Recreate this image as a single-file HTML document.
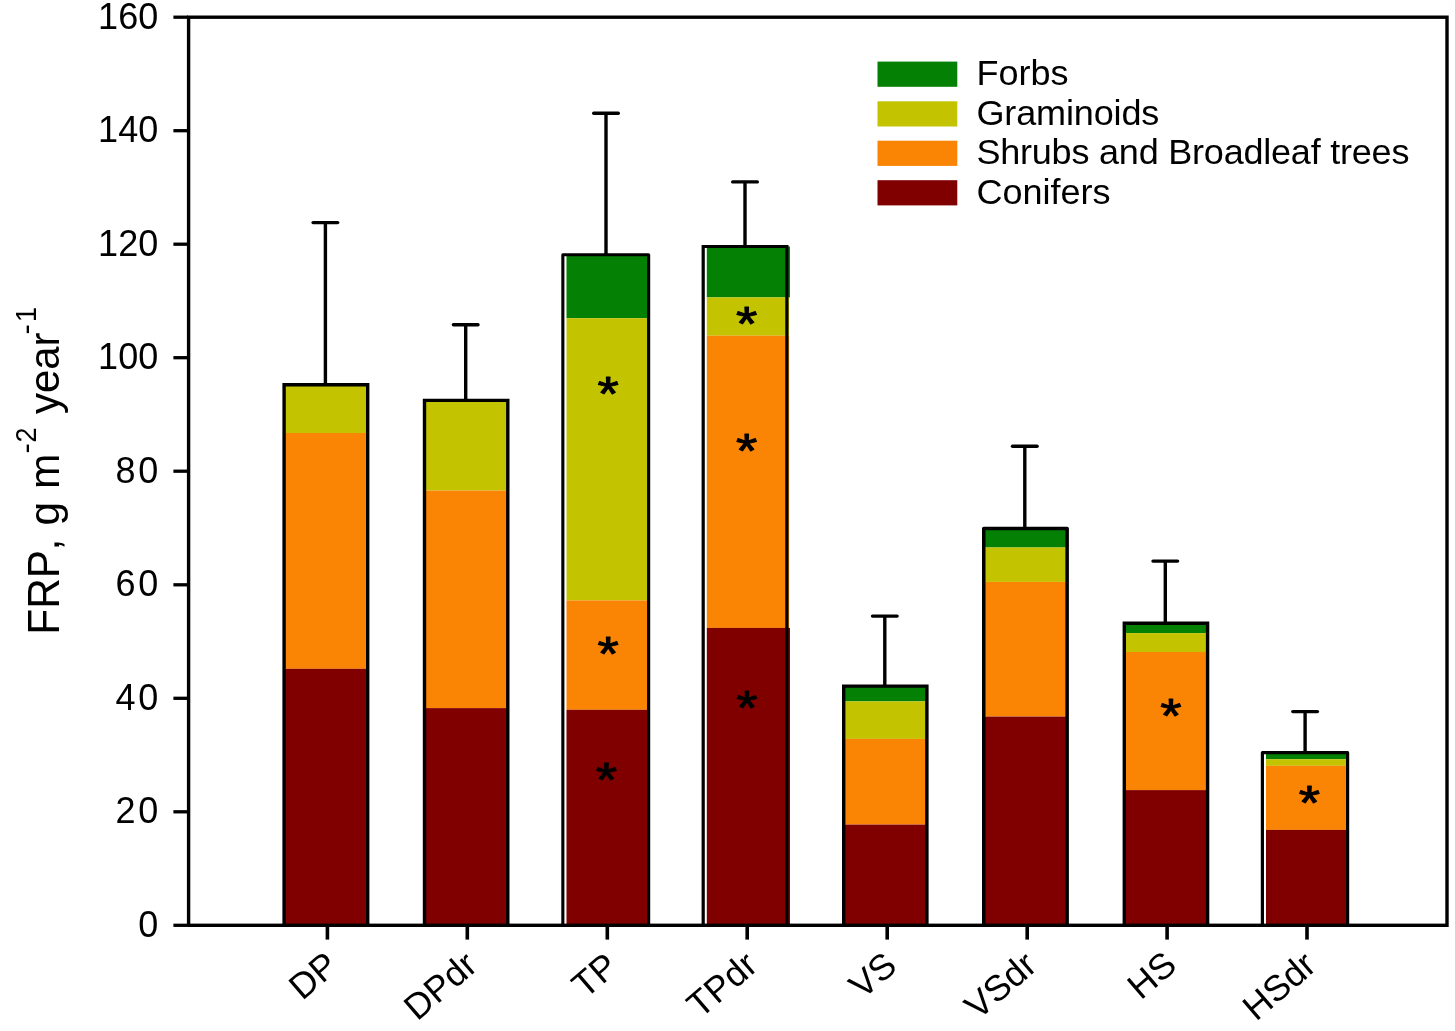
<!DOCTYPE html>
<html lang="en"><head><meta charset="utf-8"><title>FRP stacked bar chart</title>
<style>html,body{margin:0;padding:0;background:#fff}svg{display:block}text{font-family:"Liberation Sans",Arial,sans-serif;fill:#000}</style>
</head><body>
<svg width="1455" height="1031" viewBox="0 0 1455 1031">
<rect x="0" y="0" width="1455" height="1031" fill="#fff"/>
<g shape-rendering="auto">
<rect x="284.0" y="385.0" width="84.0" height="48.0" fill="#C4C300"/>
<rect x="284.0" y="433.0" width="84.0" height="235.8" fill="#FA8403"/>
<rect x="284.0" y="668.8" width="84.0" height="256.5" fill="#800000"/>
<rect x="424.0" y="400.0" width="84.0" height="90.6" fill="#C4C300"/>
<rect x="424.0" y="490.6" width="84.0" height="217.5" fill="#FA8403"/>
<rect x="424.0" y="708.1" width="84.0" height="217.2" fill="#800000"/>
<rect x="566.5" y="255.0" width="82.5" height="63.2" fill="#048004"/>
<rect x="566.5" y="318.2" width="82.5" height="282.2" fill="#C4C300"/>
<rect x="566.5" y="600.4" width="82.5" height="109.4" fill="#FA8403"/>
<rect x="566.5" y="709.8" width="82.5" height="215.5" fill="#800000"/>
<rect x="706.8" y="246.5" width="83.2" height="50.9" fill="#048004"/>
<rect x="706.8" y="297.4" width="82.3" height="38.3" fill="#C4C300"/>
<rect x="706.8" y="335.7" width="82.3" height="292.2" fill="#FA8403"/>
<rect x="706.8" y="627.9" width="83.2" height="297.4" fill="#800000"/>
<rect x="844.0" y="686.0" width="83.0" height="15.4" fill="#048004"/>
<rect x="844.0" y="701.4" width="83.0" height="37.5" fill="#C4C300"/>
<rect x="844.0" y="738.9" width="83.0" height="85.7" fill="#FA8403"/>
<rect x="844.0" y="824.6" width="83.0" height="100.7" fill="#800000"/>
<rect x="984.0" y="528.0" width="83.0" height="19.5" fill="#048004"/>
<rect x="984.0" y="547.5" width="83.0" height="34.4" fill="#C4C300"/>
<rect x="984.0" y="581.9" width="83.0" height="134.7" fill="#FA8403"/>
<rect x="984.0" y="716.6" width="83.0" height="208.7" fill="#800000"/>
<rect x="1124.0" y="623.0" width="84.0" height="10.1" fill="#048004"/>
<rect x="1124.0" y="633.1" width="84.0" height="18.9" fill="#C4C300"/>
<rect x="1124.0" y="652.0" width="84.0" height="138.1" fill="#FA8403"/>
<rect x="1124.0" y="790.1" width="84.0" height="135.2" fill="#800000"/>
<rect x="1266.0" y="753.0" width="82.0" height="6.2" fill="#048004"/>
<rect x="1266.0" y="759.2" width="82.0" height="6.6" fill="#C4C300"/>
<rect x="1266.0" y="765.8" width="82.0" height="64.1" fill="#FA8403"/>
<rect x="1266.0" y="829.9" width="82.0" height="95.4" fill="#800000"/>
</g>
<g stroke="#000" stroke-width="3.4" fill="none" stroke-linecap="round">
<path d="M325.4 384.1V222.6" stroke-linecap="butt"/>
<path d="M313.1 222.6H337.7"/>
<path d="M465.7 399.7V324.8" stroke-linecap="butt"/>
<path d="M453.4 324.8H478.0"/>
<path d="M606.0 254.2V113.2" stroke-linecap="butt"/>
<path d="M593.7 113.2H618.3"/>
<path d="M745.0 245.9V181.9" stroke-linecap="butt"/>
<path d="M732.7 181.9H757.3"/>
<path d="M884.8 685.4V616.1" stroke-linecap="butt"/>
<path d="M872.5 616.1H897.1"/>
<path d="M1024.8 527.8V446.3" stroke-linecap="butt"/>
<path d="M1012.5 446.3H1037.1"/>
<path d="M1165.3 622.6V561.1" stroke-linecap="butt"/>
<path d="M1153.0 561.1H1177.6"/>
<path d="M1305.1 752.1V711.6" stroke-linecap="butt"/>
<path d="M1292.8 711.6H1317.4"/>
</g>
<path d="M284.10 925.3V384.80H367.70V925.3" fill="none" stroke="#000" stroke-width="3.4" stroke-linejoin="miter"/>
<path d="M424.50 925.3V400.40H507.80V925.3" fill="none" stroke="#000" stroke-width="3.4" stroke-linejoin="miter"/>
<path d="M562.85 925.3V254.75H648.65V925.3" fill="none" stroke="#000" stroke-width="3.1" stroke-linejoin="round"/>
<path d="M703.20 925.3V246.50H786.90V925.3" fill="none" stroke="#000" stroke-width="3.2" stroke-linejoin="miter"/>
<path d="M843.70 925.3V686.10H926.90V925.3" fill="none" stroke="#000" stroke-width="3.4" stroke-linejoin="miter"/>
<path d="M983.75 925.3V528.55H1067.15V925.3" fill="none" stroke="#000" stroke-width="3.5" stroke-linejoin="round"/>
<path d="M1124.30 925.3V623.30H1207.60V925.3" fill="none" stroke="#000" stroke-width="3.4" stroke-linejoin="miter"/>
<path d="M1262.40 925.3V752.70H1347.60V925.3" fill="none" stroke="#000" stroke-width="3.2" stroke-linejoin="round"/>
<rect x="188.6" y="17.2" width="1258.4" height="908.1" fill="none" stroke="#000" stroke-width="3.4"/>
<g stroke="#000" stroke-width="3.3">
<path d="M173.4 925.3H188"/>
<path d="M173.4 811.8H188"/>
<path d="M173.4 698.3H188"/>
<path d="M173.4 584.8H188"/>
<path d="M173.4 471.2H188"/>
<path d="M173.4 357.7H188"/>
<path d="M173.4 244.2H188"/>
<path d="M173.4 130.7H188"/>
<path d="M173.4 17.2H188"/>
</g>
<g stroke="#000" stroke-width="3.6">
<path d="M327.4 926V939.6"/>
<path d="M467.3 926V939.6"/>
<path d="M607.3 926V939.6"/>
<path d="M747.2 926V939.6"/>
<path d="M887.2 926V939.6"/>
<path d="M1027.2 926V939.6"/>
<path d="M1167.1 926V939.6"/>
<path d="M1307.0 926V939.6"/>
</g>
<g font-size="36" text-anchor="end">
<text x="158.2" y="936.9">0</text>
<text x="158.2" y="823.4">2<tspan dx="2.6">0</tspan></text>
<text x="158.2" y="709.9">4<tspan dx="2.6">0</tspan></text>
<text x="158.2" y="596.4">6<tspan dx="2.6">0</tspan></text>
<text x="158.2" y="482.8">8<tspan dx="2.6">0</tspan></text>
<text x="158.2" y="369.3">100</text>
<text x="158.2" y="255.8">120</text>
<text x="158.2" y="142.3">140</text>
<text x="158.2" y="28.8">160</text>
</g>
<g font-size="36" text-anchor="end">
<text transform="translate(340.2 968.6) rotate(-40.7)">DP</text>
<text transform="translate(479.4 968.3) rotate(-40.7)">DPdr</text>
<text transform="translate(620.1 969.5) rotate(-40.7)">TP</text>
<text transform="translate(759.5 968.5) rotate(-40.7)">TPdr</text>
<text transform="translate(898.9 968.8) rotate(-40.7)">VS</text>
<text transform="translate(1038.8 968.5) rotate(-40.7)">VSdr</text>
<text transform="translate(1178.6 968.1) rotate(-40.7)">HS</text>
<text transform="translate(1318.2 968.5) rotate(-40.7)">HSdr</text>
</g>
<text transform="translate(58.5 0) rotate(-90)"><tspan x="-634.8" y="0.0" font-size="44.6" textLength="84.94" lengthAdjust="spacingAndGlyphs">FRP</tspan><tspan x="-550.5" y="0.0" font-size="42.5">,</tspan><tspan> </tspan><tspan x="-525.4" y="0.0" font-size="42.5">g</tspan><tspan> </tspan><tspan x="-489.0" y="0.0" font-size="42.5">m</tspan><tspan x="-453.6" y="-22.3" font-size="28.6" textLength="10.34" lengthAdjust="spacingAndGlyphs">-</tspan><tspan x="-442.5" y="-22.3" font-size="28.6" textLength="15.01" lengthAdjust="spacingAndGlyphs">2</tspan><tspan> </tspan><tspan x="-414.1" y="0.0" font-size="42.5" textLength="81.70" lengthAdjust="spacingAndGlyphs">year</tspan><tspan x="-334.4" y="-22.3" font-size="28.6" textLength="10.34" lengthAdjust="spacingAndGlyphs">-</tspan><tspan x="-322.0" y="-22.3" font-size="28.6" textLength="15.01" lengthAdjust="spacingAndGlyphs">1</tspan></text>
<rect x="877.5" y="61.6" width="79.8" height="25.2" fill="#048004"/>
<text transform="translate(976.4 85.4) scale(1.03 1)" font-size="35" letter-spacing="0">Forbs</text>
<rect x="877.5" y="101.3" width="79.8" height="25.2" fill="#C4C300"/>
<text transform="translate(976.4 124.9) scale(1.03 1)" font-size="35" letter-spacing="-0.14">Graminoids</text>
<rect x="877.5" y="140.7" width="79.8" height="25.2" fill="#FA8403"/>
<text transform="translate(976.4 164.2) scale(1.03 1)" font-size="35" letter-spacing="-0.22">Shrubs and Broadleaf trees</text>
<rect x="877.5" y="180.2" width="79.8" height="25.2" fill="#800000"/>
<text transform="translate(976.4 203.6) scale(1.03 1)" font-size="35" letter-spacing="0">Conifers</text>
<g font-size="48" text-anchor="middle" stroke="#000" stroke-width="1.0" stroke-linejoin="round">
<text transform="translate(608.2 410.2) scale(1.14 1)">*</text>
<text transform="translate(608.1 670.0) scale(1.14 1)">*</text>
<text transform="translate(606.3 795.7) scale(1.14 1)">*</text>
<text transform="translate(746.7 340.0) scale(1.14 1)">*</text>
<text transform="translate(746.6 466.5) scale(1.14 1)">*</text>
<text transform="translate(747.0 723.5) scale(1.14 1)">*</text>
<text transform="translate(1170.9 731.5) scale(1.14 1)">*</text>
<text transform="translate(1309.4 818.6) scale(1.14 1)">*</text>
</g>
</svg>
</body></html>
